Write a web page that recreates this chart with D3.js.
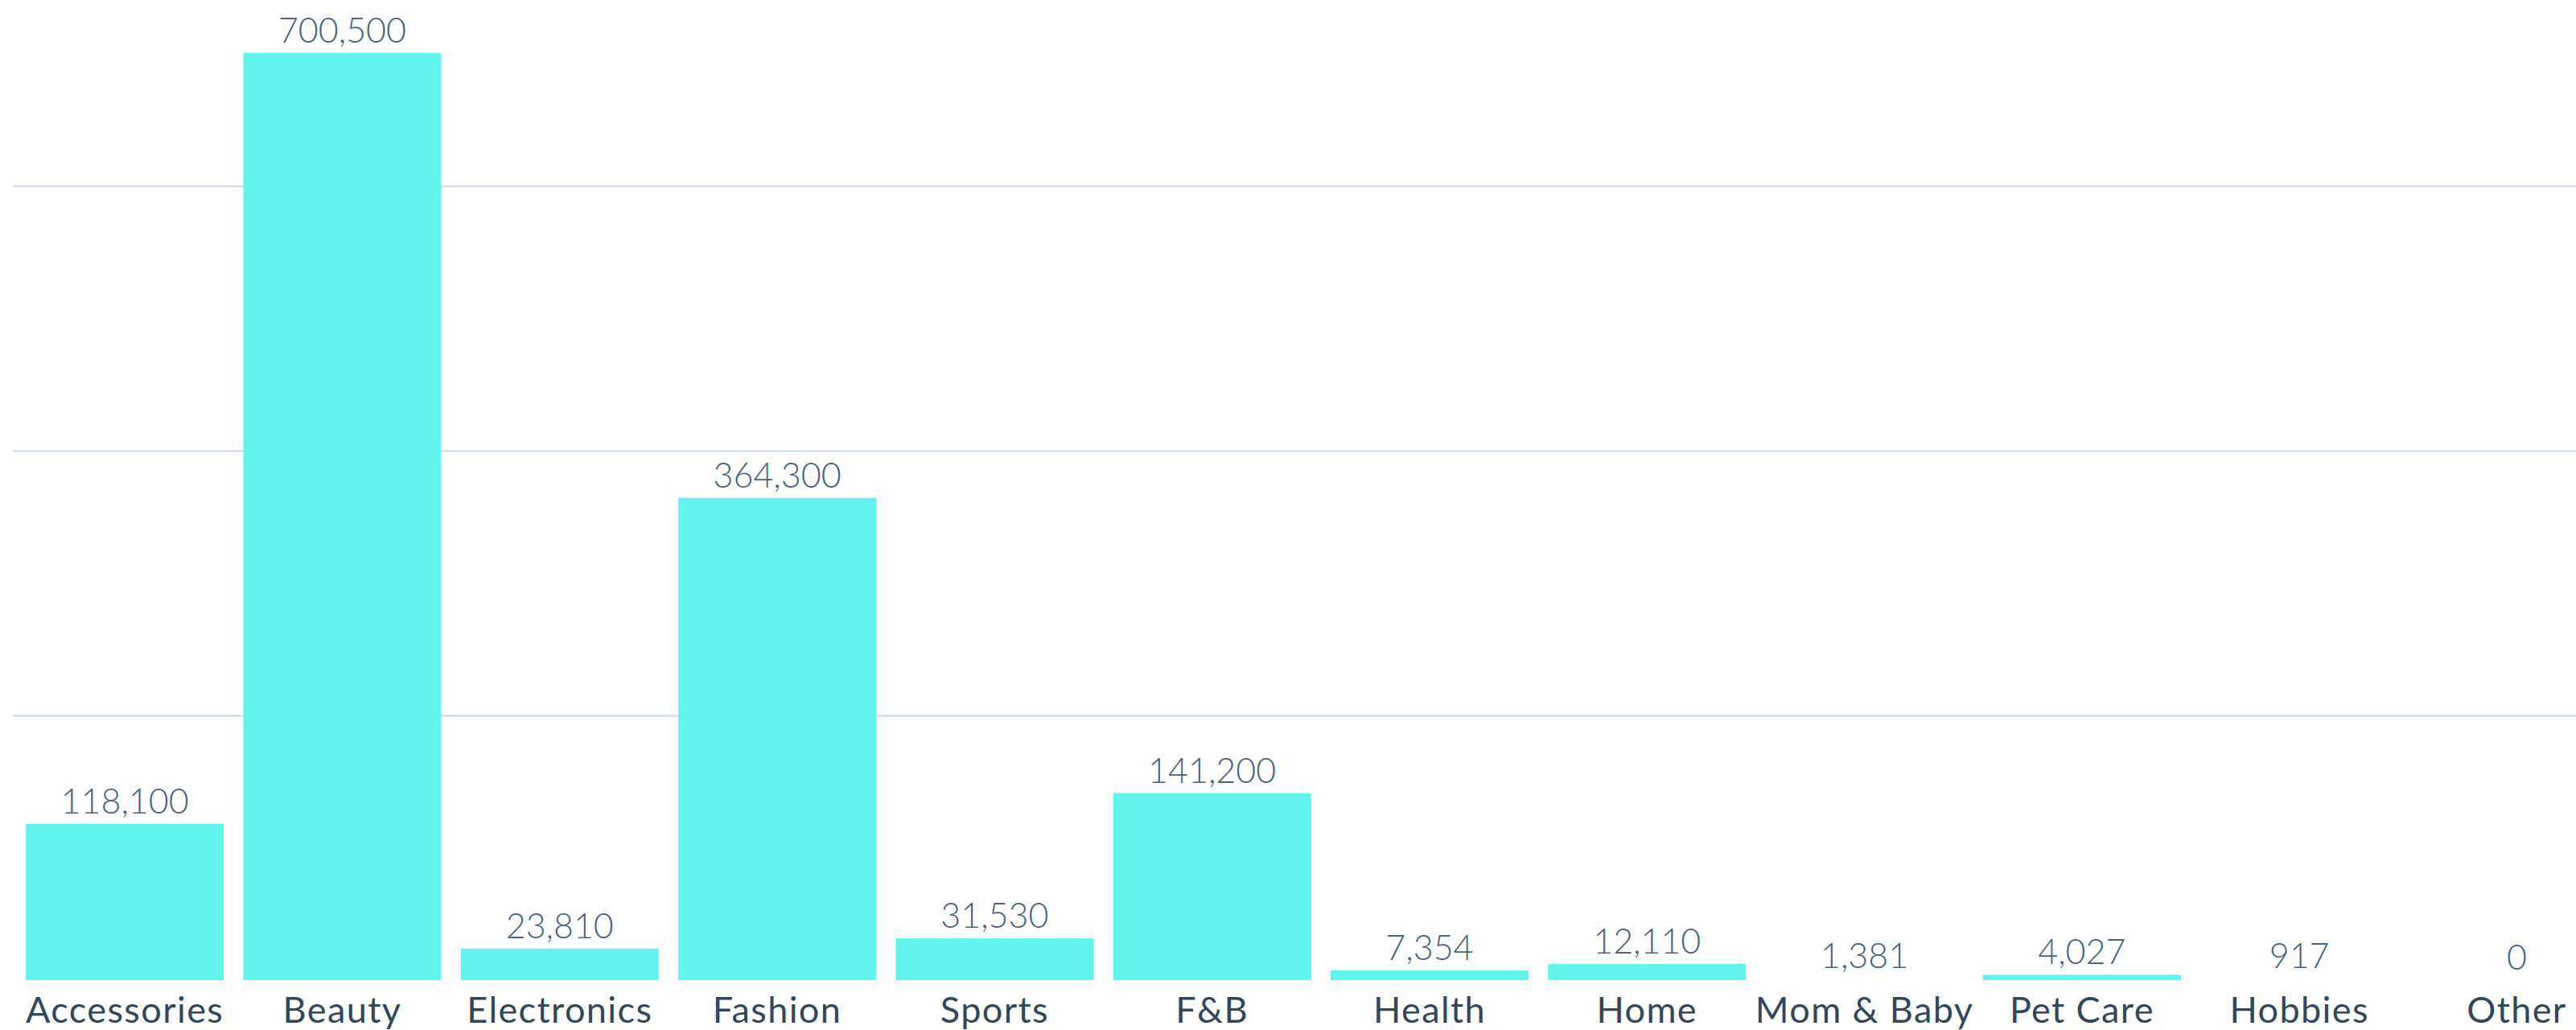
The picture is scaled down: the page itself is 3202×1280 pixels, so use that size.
<!DOCTYPE html>
<html>
<head>
<meta charset="utf-8">
<script src="https://cdn.jsdelivr.net/npm/d3@7"></script>
<style>
  html, body { margin: 0; padding: 0; background: #ffffff; overflow: hidden; }
  svg { display: block; }
</style>
</head>
<body>
<script>
const categories = ["Accessories", "Beauty", "Electronics", "Fashion", "Sports", "F&B", "Health", "Home", "Mom & Baby", "Pet Care", "Hobbies", "Other"];
const values = [118100, 700500, 23810, 364300, 31530, 141200, 7354, 12110, 1381, 4027, 917, 0];
const gridTicks = [0, 200000, 400000, 600000];

const W = 3202, H = 1280;
const svg = d3.select("body").append("svg").attr("width", W).attr("height", H);

const baseline = 1218;
const pxPer200k = 329;
const yMax = 740000;
const y = d3.scaleLinear().domain([0, yMax]).range([baseline, baseline - yMax * pxPer200k / 200000]);

const step = 270.3;
const x = d3.scaleBand().domain(categories)
  .range([20, 20 + step * categories.length])
  .paddingInner(0.09).paddingOuter(0.045);

// gridlines
const yAxis = d3.axisLeft(y).tickValues(gridTicks.filter(d => d > 0)).tickSize(-(W - 16)).tickFormat("");
const gAxis = svg.append("g").attr("transform", `translate(16,0)`).call(yAxis);
gAxis.select(".domain").remove();
gAxis.selectAll(".tick line").attr("stroke", "#cbd6e2").attr("stroke-width", 2);

// bars (bars thinner than 3px are not painted, as in the source chart)
svg.append("g").selectAll("rect").data(values).join("rect")
  .attr("x", (d, i) => x(categories[i]))
  .attr("width", x.bandwidth())
  .attr("y", d => y(d))
  .attr("height", d => baseline - y(d))
  .attr("fill", "#61f4ec")
  .attr("visibility", d => (baseline - y(d)) < 3 ? "hidden" : "visible");

// value labels
const fmt = d3.format(",");
svg.append("g").selectAll("text").data(values).join("text")
  .attr("x", (d, i) => x(categories[i]) + x.bandwidth() / 2)
  .attr("y", d => y(d) - 13)
  .attr("text-anchor", "middle")
  .attr("font-family", "Lato, sans-serif")
  .attr("font-weight", 300)
  .attr("font-size", 43)
  .attr("fill", "#4a6380")
  .text(d => fmt(d));

// category axis labels
const xAxis = d3.axisBottom(x).tickSize(0).tickPadding(0);
const gx = svg.append("g").attr("transform", `translate(0,${baseline})`).call(xAxis);
gx.select(".domain").remove();
gx.selectAll(".tick text")
  .attr("dy", null)
  .attr("y", 53)
  .attr("font-family", "Lato, sans-serif")
  .attr("font-weight", 400)
  .attr("font-size", 45)
  .attr("letter-spacing", 1.4)
  .attr("fill", "#33475b");
</script>
</body>
</html>
